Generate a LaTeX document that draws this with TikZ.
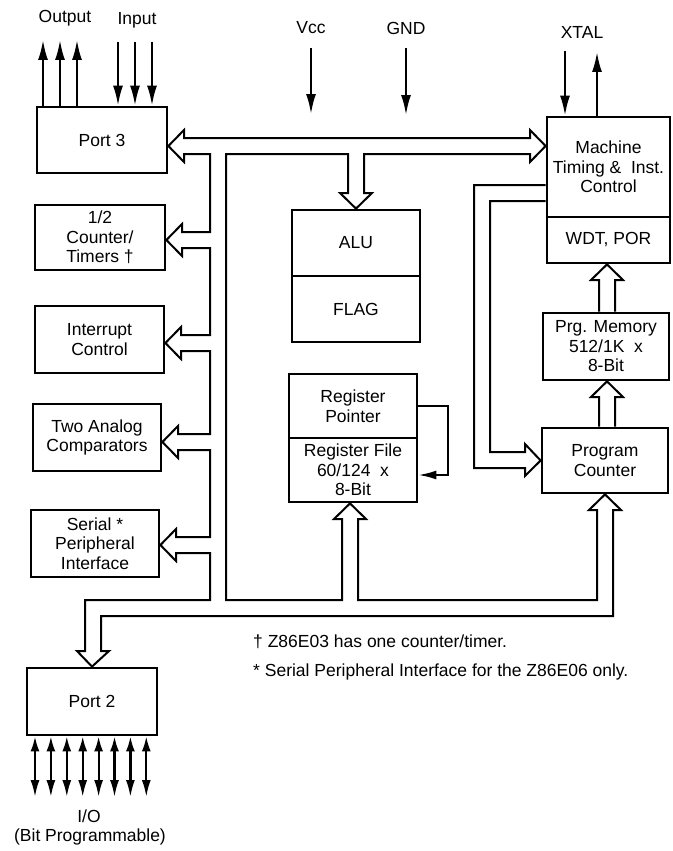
\documentclass[tikz,border=0pt]{standalone}
\usepackage{fontspec}
\setmainfont{Liberation Sans}
\usetikzlibrary{arrows.meta}
\newcommand\myfs{\fontsize{17.5}{19.5}\selectfont}
\begin{document}
\begin{tikzpicture}[x=1pt,y=-1pt,
  box/.style={draw, line width=2.8pt, inner sep=0pt, align=center, font=\myfs},
  lbl/.style={inner sep=0pt, align=center, font=\myfs},
  bus/.style={line width=2pt, line join=miter},
  arr/.style={line width=2.2pt, -{Latex[length=20pt,width=10pt]}},
  ioarr/.style={line width=2.2pt, {Latex[length=15pt,width=9pt]}-{Latex[length=17pt,width=9pt]}},
  loop/.style={line width=2pt, -{Latex[length=18pt,width=9pt]}}]
\fill[white] (0,0) rectangle (672,851);
\useasboundingbox (0,0) rectangle (672,851);

% ---------- boxes ----------
\node[box, minimum width=130, minimum height=66] (port3) at (102,140) {Port 3};
\node[box, minimum width=130, minimum height=65] (ctr) at (100,237.5) {1/2\\Counter/\\Timers †};
\node[box, minimum width=129, minimum height=67] (intr) at (99.5,339.5) {Interrupt\\Control};
\node[box, minimum width=128, minimum height=67] (cmp) at (97,437.5) {Two Analog\\Comparators};
\node[box, minimum width=128, minimum height=67] (spi) at (95,543.5) {Serial *\\Peripheral\\Interface};
\node[box, minimum width=130, minimum height=67] (port2) at (92,701.5) {Port 2};

\node[box, minimum width=128, minimum height=66] (alu) at (356,243) {ALU};
\node[box, minimum width=128, minimum height=66] (flag) at (356,309) {FLAG};
\node[box, minimum width=128, minimum height=64] (rp) at (353,406) {Register\\Pointer};
\node[box, minimum width=128, minimum height=64] (rf) at (353,470) {Register File\\60/124~~x\\8-Bit};

\node[box, minimum width=123, minimum height=100] (mach) at (608.5,167) {Machine\\Timing \&~~Inst.\\Control};
\node[box, minimum width=123, minimum height=46] (wdt) at (608.5,240) {WDT, POR};
\node[box, minimum width=126, minimum height=67] (pmem) at (606,346.5) {Prg. Memory\\512/1K~~x\\8-Bit};
\node[box, minimum width=126, minimum height=65] (pc) at (605,460.5) {Program\\Counter};

% ---------- main hollow bus (one outline) ----------
\draw[bus] (184,154) -- (210,154)
  -- (210,232) -- (182,232) -- (182,224) -- (ctr.east |- 0,240) -- (182,256) -- (182,248) -- (210,248)
  -- (210,335) -- (181,335) -- (181,327) -- (intr.east |- 0,343) -- (181,359) -- (181,351) -- (210,351)
  -- (210,434) -- (178,434) -- (178,426) -- (cmp.east |- 0,442) -- (178,458) -- (178,450) -- (210,450)
  -- (210,537) -- (176,537) -- (176,529) -- (spi.east |- 0,545) -- (176,561) -- (176,553) -- (210,553)
  -- (210,600) -- (85,600) -- (85,651) -- (77,651) -- (port2.north) -- (109,651) -- (101,651)
  -- (101,616) -- (613,616) -- (613,510) -- (621,510) -- (pc.south) -- (589,510) -- (597,510)
  -- (597,600) -- (358,600) -- (358,519) -- (366,519) -- (rf.south -| 350,0) -- (334,519) -- (342,519)
  -- (342,600) -- (226,600) -- (226,154) -- (348,154) -- (348,193) -- (340,193) -- (alu.north)
  -- (372,193) -- (364,193) -- (364,154) -- (530,154) -- (530,162) -- (mach.west |- 0,146)
  -- (530,130) -- (530,138) -- (184,138) -- (184,130) -- (port3.east |- 0,146) -- (184,162) -- cycle;

% Machine timing -> program counter
\draw[bus] (mach.west |- 0,185) -- (474,185) -- (474,468) -- (525,468) -- (525,476) -- (pc.west)
  -- (525,444) -- (525,452) -- (490,452) -- (490,201) -- (mach.west |- 0,201);
% program counter -> program memory
\draw[bus] (pc.north -| 599,0) -- (599,397) -- (591,397) -- (pmem.south -| 607,0) -- (623,397) -- (615,397) -- (pc.north -| 615,0);
% program memory -> WDT
\draw[bus] (pmem.north -| 599,0) -- (599,280) -- (591,280) -- (wdt.south -| 607,0) -- (623,280) -- (615,280) -- (pmem.north -| 615,0);

% register pointer loop
\draw[loop] (rp.east) -- (448,406) -- (448,475) -- (rf.east |- 0,475);

% ---------- thin signal arrows ----------
\coordinate (o1) at (43,40); \coordinate (o2) at (60,40); \coordinate (o3) at (77,40);
\coordinate (i1) at (118,42); \coordinate (i2) at (135,42); \coordinate (i3) at (152,42);
\foreach \c in {o1,o2,o3} \draw[arr] (port3.north -| \c) -- (\c);
\foreach \c in {i1,i2,i3} \draw[arr] (\c) -- (port3.north -| \c);

\node[lbl] (outl) at (65,18) {Output};
\node[lbl] (inl) at (137,20) {Input};
\node[lbl] (vccl) at (311,28) {Vcc};
\node[lbl] (gndl) at (406,28) {GND};
\node[lbl] (xtall) at (582,32) {XTAL};

\coordinate (vcc) at (311,48); \coordinate (vcct) at (311,114);
\coordinate (gnd) at (406,48); \coordinate (gndt) at (406,115);
\draw[arr] (vcc) -- (vcct);
\draw[arr] (gnd) -- (gndt);
\coordinate (xin) at (565,51); \coordinate (xout) at (597,52);
\draw[arr] (xin) -- (mach.north -| xin);
\draw[arr] (mach.north -| xout) -- (xout);

% Port 2 I/O
\foreach \i in {0,...,7} {
  \coordinate (io\i) at ({35+15.9*\i},797);
  \draw[ioarr] (port2.south -| io\i) -- (io\i);
}
\node[lbl] (iol) at (89,816) {I/O};
\node[lbl] (bpl) at (90,837) {(Bit Programmable)};

% footnotes
\node[lbl, anchor=west] (fn1) at (253,642) {† Z86E03 has one counter/timer.};
\node[lbl, anchor=west] (fn2) at (253,672) {* Serial Peripheral Interface for the Z86E06 only.};
\end{tikzpicture}
\end{document}
